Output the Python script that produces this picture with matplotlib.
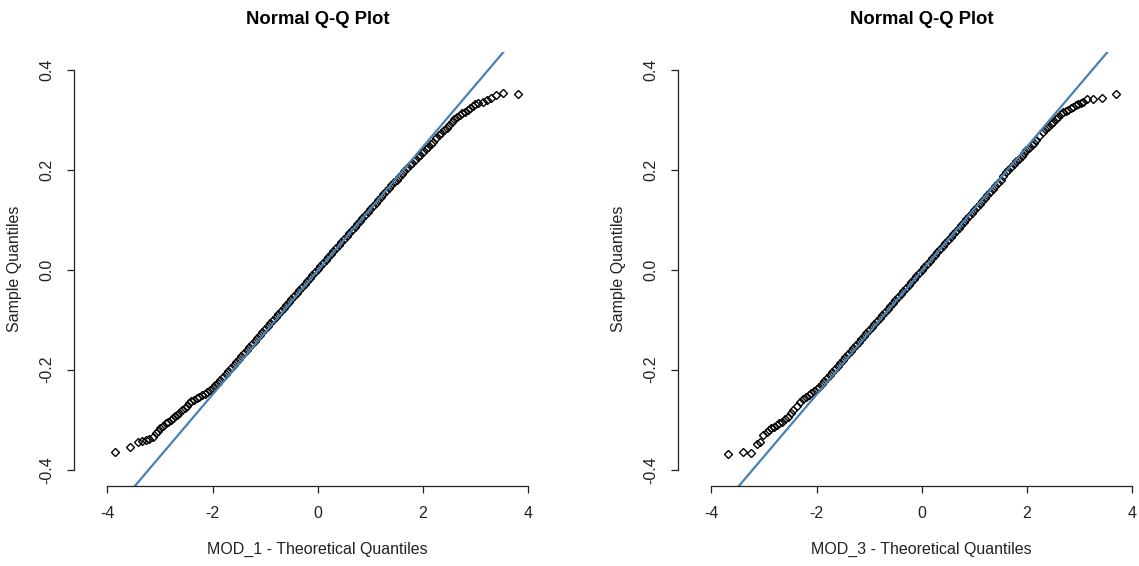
import matplotlib
matplotlib.use("Agg")
import matplotlib.pyplot as plt

# ---------------- DATA ----------------
# MOD_1: theoretical vs sample quantiles
mod1_theo = [-3.85, -3.57, -3.41, -3.35, -3.27, -3.21, -3.14, -3.08, -3.03, -3.00,
             -2.95, -2.89, -2.84, -2.79, -2.75, -2.71, -2.67, -2.63, -2.58, -2.53,
             -2.49, -2.44, -2.40, -2.35, -2.30, -2.25, -2.20, -2.15, -2.10, -2.05,
             -2.00, -1.95, -1.90, -1.85, -1.80, -1.75, -1.70, -1.65, -1.60, -1.55,
             -1.50, -1.45, -1.40, -1.35, -1.30, -1.25, -1.20, -1.15, -1.10, -1.05,
             -1.00, -0.95, -0.90, -0.85, -0.80, -0.75, -0.70, -0.65, -0.60, -0.55,
             -0.50, -0.45, -0.40, -0.35, -0.30, -0.25, -0.20, -0.15, -0.10, -0.05,
             0.00, 0.05, 0.10, 0.15, 0.20, 0.25, 0.30, 0.35, 0.40, 0.45,
             0.50, 0.55, 0.60, 0.65, 0.70, 0.75, 0.80, 0.85, 0.90, 0.95,
             1.00, 1.05, 1.10, 1.15, 1.20, 1.25, 1.30, 1.35, 1.40, 1.45,
             1.50, 1.55, 1.60, 1.65, 1.70, 1.75, 1.80, 1.85, 1.90, 1.95,
             2.00, 2.05, 2.10, 2.15, 2.20, 2.25, 2.30, 2.35, 2.40, 2.45,
             2.50, 2.55, 2.60, 2.65, 2.70, 2.75, 2.80, 2.86, 2.90, 2.95,
             3.00, 3.05, 3.14, 3.22, 3.30, 3.40, 3.52, 3.80]
mod1_samp = [-0.365, -0.355, -0.344, -0.343, -0.341, -0.339, -0.334, -0.327, -0.322, -0.317,
             -0.313, -0.307, -0.304, -0.300, -0.296, -0.293, -0.290, -0.286, -0.281, -0.276,
             -0.272, -0.267, -0.263, -0.260, -0.257, -0.254, -0.251, -0.248, -0.244, -0.240,
             -0.236, -0.231, -0.226, -0.220, -0.214, -0.208, -0.202, -0.197, -0.191, -0.185,
             -0.179, -0.173, -0.167, -0.161, -0.155, -0.149, -0.143, -0.137, -0.131, -0.125,
             -0.119, -0.113, -0.107, -0.101, -0.095, -0.089, -0.083, -0.077, -0.071, -0.065,
             -0.059, -0.053, -0.047, -0.041, -0.035, -0.029, -0.023, -0.017, -0.011, -0.005,
             0.001, 0.007, 0.013, 0.019, 0.025, 0.031, 0.037, 0.043, 0.049, 0.055,
             0.061, 0.067, 0.073, 0.079, 0.085, 0.091, 0.097, 0.103, 0.109, 0.115,
             0.121, 0.127, 0.133, 0.139, 0.145, 0.151, 0.157, 0.163, 0.169, 0.175,
             0.180, 0.186, 0.192, 0.198, 0.203, 0.209, 0.214, 0.220, 0.225, 0.230,
             0.235, 0.241, 0.246, 0.251, 0.256, 0.263, 0.270, 0.274, 0.279, 0.284,
             0.290, 0.296, 0.301, 0.305, 0.309, 0.313, 0.316, 0.320, 0.324, 0.328,
             0.331, 0.333, 0.336, 0.339, 0.344, 0.349, 0.353, 0.352]

# MOD_3
mod3_theo = [-3.68, -3.39, -3.25, -3.14, -3.07, -3.02, -2.95, -2.90, -2.86, -2.81,
             -2.76, -2.71, -2.66, -2.60, -2.54, -2.49, -2.44, -2.38, -2.31, -2.25,
             -2.20, -2.15, -2.10, -2.05, -2.00, -1.95, -1.90, -1.85, -1.80, -1.75,
             -1.70, -1.65, -1.60, -1.55, -1.50, -1.45, -1.40, -1.35, -1.30, -1.25,
             -1.20, -1.15, -1.10, -1.05, -1.00, -0.95, -0.90, -0.85, -0.80, -0.75,
             -0.70, -0.65, -0.60, -0.55, -0.50, -0.45, -0.40, -0.35, -0.30, -0.25,
             -0.20, -0.15, -0.10, -0.05, 0.00, 0.05, 0.10, 0.15, 0.20, 0.25,
             0.30, 0.35, 0.40, 0.45, 0.50, 0.55, 0.60, 0.65, 0.70, 0.75,
             0.80, 0.85, 0.90, 0.95, 1.00, 1.05, 1.10, 1.15, 1.20, 1.25,
             1.30, 1.35, 1.40, 1.45, 1.50, 1.55, 1.61, 1.65, 1.70, 1.75,
             1.80, 1.85, 1.90, 1.95, 1.99, 2.04, 2.09, 2.14, 2.18, 2.24,
             2.31, 2.35, 2.40, 2.45, 2.50, 2.55, 2.59, 2.64, 2.69, 2.74,
             2.78, 2.83, 2.88, 2.93, 2.97, 3.02, 3.07, 3.14, 3.26, 3.42,
             3.69]
mod3_samp = [-0.369, -0.365, -0.367, -0.349, -0.344, -0.331, -0.324, -0.320, -0.317, -0.314,
             -0.311, -0.307, -0.304, -0.299, -0.294, -0.287, -0.281, -0.273, -0.264, -0.259,
             -0.255, -0.251, -0.247, -0.243, -0.239, -0.234, -0.229, -0.223, -0.217, -0.211,
             -0.205, -0.199, -0.193, -0.187, -0.181, -0.175, -0.169, -0.163, -0.157, -0.151,
             -0.145, -0.139, -0.133, -0.127, -0.121, -0.115, -0.109, -0.103, -0.097, -0.091,
             -0.085, -0.079, -0.073, -0.067, -0.061, -0.055, -0.049, -0.042, -0.036, -0.030,
             -0.024, -0.018, -0.012, -0.006, 0.000, 0.006, 0.012, 0.018, 0.024, 0.030,
             0.036, 0.042, 0.048, 0.054, 0.060, 0.066, 0.072, 0.078, 0.084, 0.090,
             0.096, 0.102, 0.108, 0.114, 0.120, 0.126, 0.132, 0.138, 0.144, 0.150,
             0.156, 0.162, 0.168, 0.174, 0.180, 0.187, 0.196, 0.200, 0.205, 0.211,
             0.217, 0.222, 0.228, 0.234, 0.239, 0.244, 0.249, 0.254, 0.259, 0.267,
             0.276, 0.281, 0.286, 0.291, 0.296, 0.301, 0.306, 0.311, 0.316, 0.318,
             0.319, 0.323, 0.326, 0.329, 0.331, 0.334, 0.336, 0.341, 0.341, 0.344,
             0.351]

# reference line (qqline) endpoints, same for both panels
line_theo = [-3.48, 3.53]
line_samp = [-0.433, 0.435]

titles = ["Normal Q-Q Plot", "Normal Q-Q Plot"]
xlabels = ["MOD_1 - Theoretical Quantiles", "MOD_3 - Theoretical Quantiles"]
ylabel = "Sample Quantiles"
xticks = [-4, -2, 0, 2, 4]
yticks = [-0.4, -0.2, 0.0, 0.2, 0.4]
ytick_labels = ["-0.4", "-0.2", "0.0", "0.2", "0.4"]

# ---------------- STYLE ----------------
plt.rcParams["font.family"] = ["Liberation Sans", "DejaVu Sans"]
plt.rcParams["axes.unicode_minus"] = False

W, H = 1139, 566
fig = plt.figure(figsize=(W / 100, H / 100), dpi=100)

panels = [(mod1_theo, mod1_samp, 73.7), (mod3_theo, mod3_samp, 677.7)]
ax_w = 488.0
ax_bottom, ax_top = 486.0, 52.0

for i, (theo, samp, left_px) in enumerate(panels):
    ax = fig.add_axes([left_px / W, (H - ax_bottom) / H, ax_w / W, (ax_bottom - ax_top) / H])
    ax.patch.set_alpha(0)

    ax.plot(theo, samp, linestyle="none", marker="D", markersize=4.4,
            markerfacecolor="none", markeredgecolor="black", markeredgewidth=1.0)
    ax.plot(line_theo, line_samp, color="steelblue", linewidth=1.6)

    ax.set_xlim(-4.64, 4.64)
    ax.set_ylim(-0.4326, 0.4354)

    for s in ["top", "right"]:
        ax.spines[s].set_visible(False)
    ax.spines["left"].set_bounds(-0.4, 0.4)
    ax.spines["bottom"].set_bounds(-4, 4)
    for s in ["left", "bottom"]:
        ax.spines[s].set_linewidth(0.9)
        ax.spines[s].set_color("#222222")

    ax.set_xticks(xticks)
    ax.set_xticklabels([str(t) for t in xticks])
    ax.set_yticks(yticks)
    ax.set_yticklabels(ytick_labels, rotation=90, va="center")
    ax.tick_params(direction="out", length=5.2, width=0.9, color="#222222",
                   labelsize=11.5, labelcolor="#222222")
    ax.tick_params(axis="x", pad=9)
    ax.tick_params(axis="y", pad=9)

    ax.set_title(titles[i], fontsize=13.3, fontweight="bold", pad=20)
    ax.set_xlabel(xlabels[i], fontsize=11.5, color="#222222")
    ax.xaxis.set_label_coords(0.5, -0.128)
    ax.set_ylabel(ylabel, fontsize=11.5, color="#222222")
    ax.yaxis.set_label_coords(-0.106, 0.5)

fig.savefig("out.png", dpi=100)
